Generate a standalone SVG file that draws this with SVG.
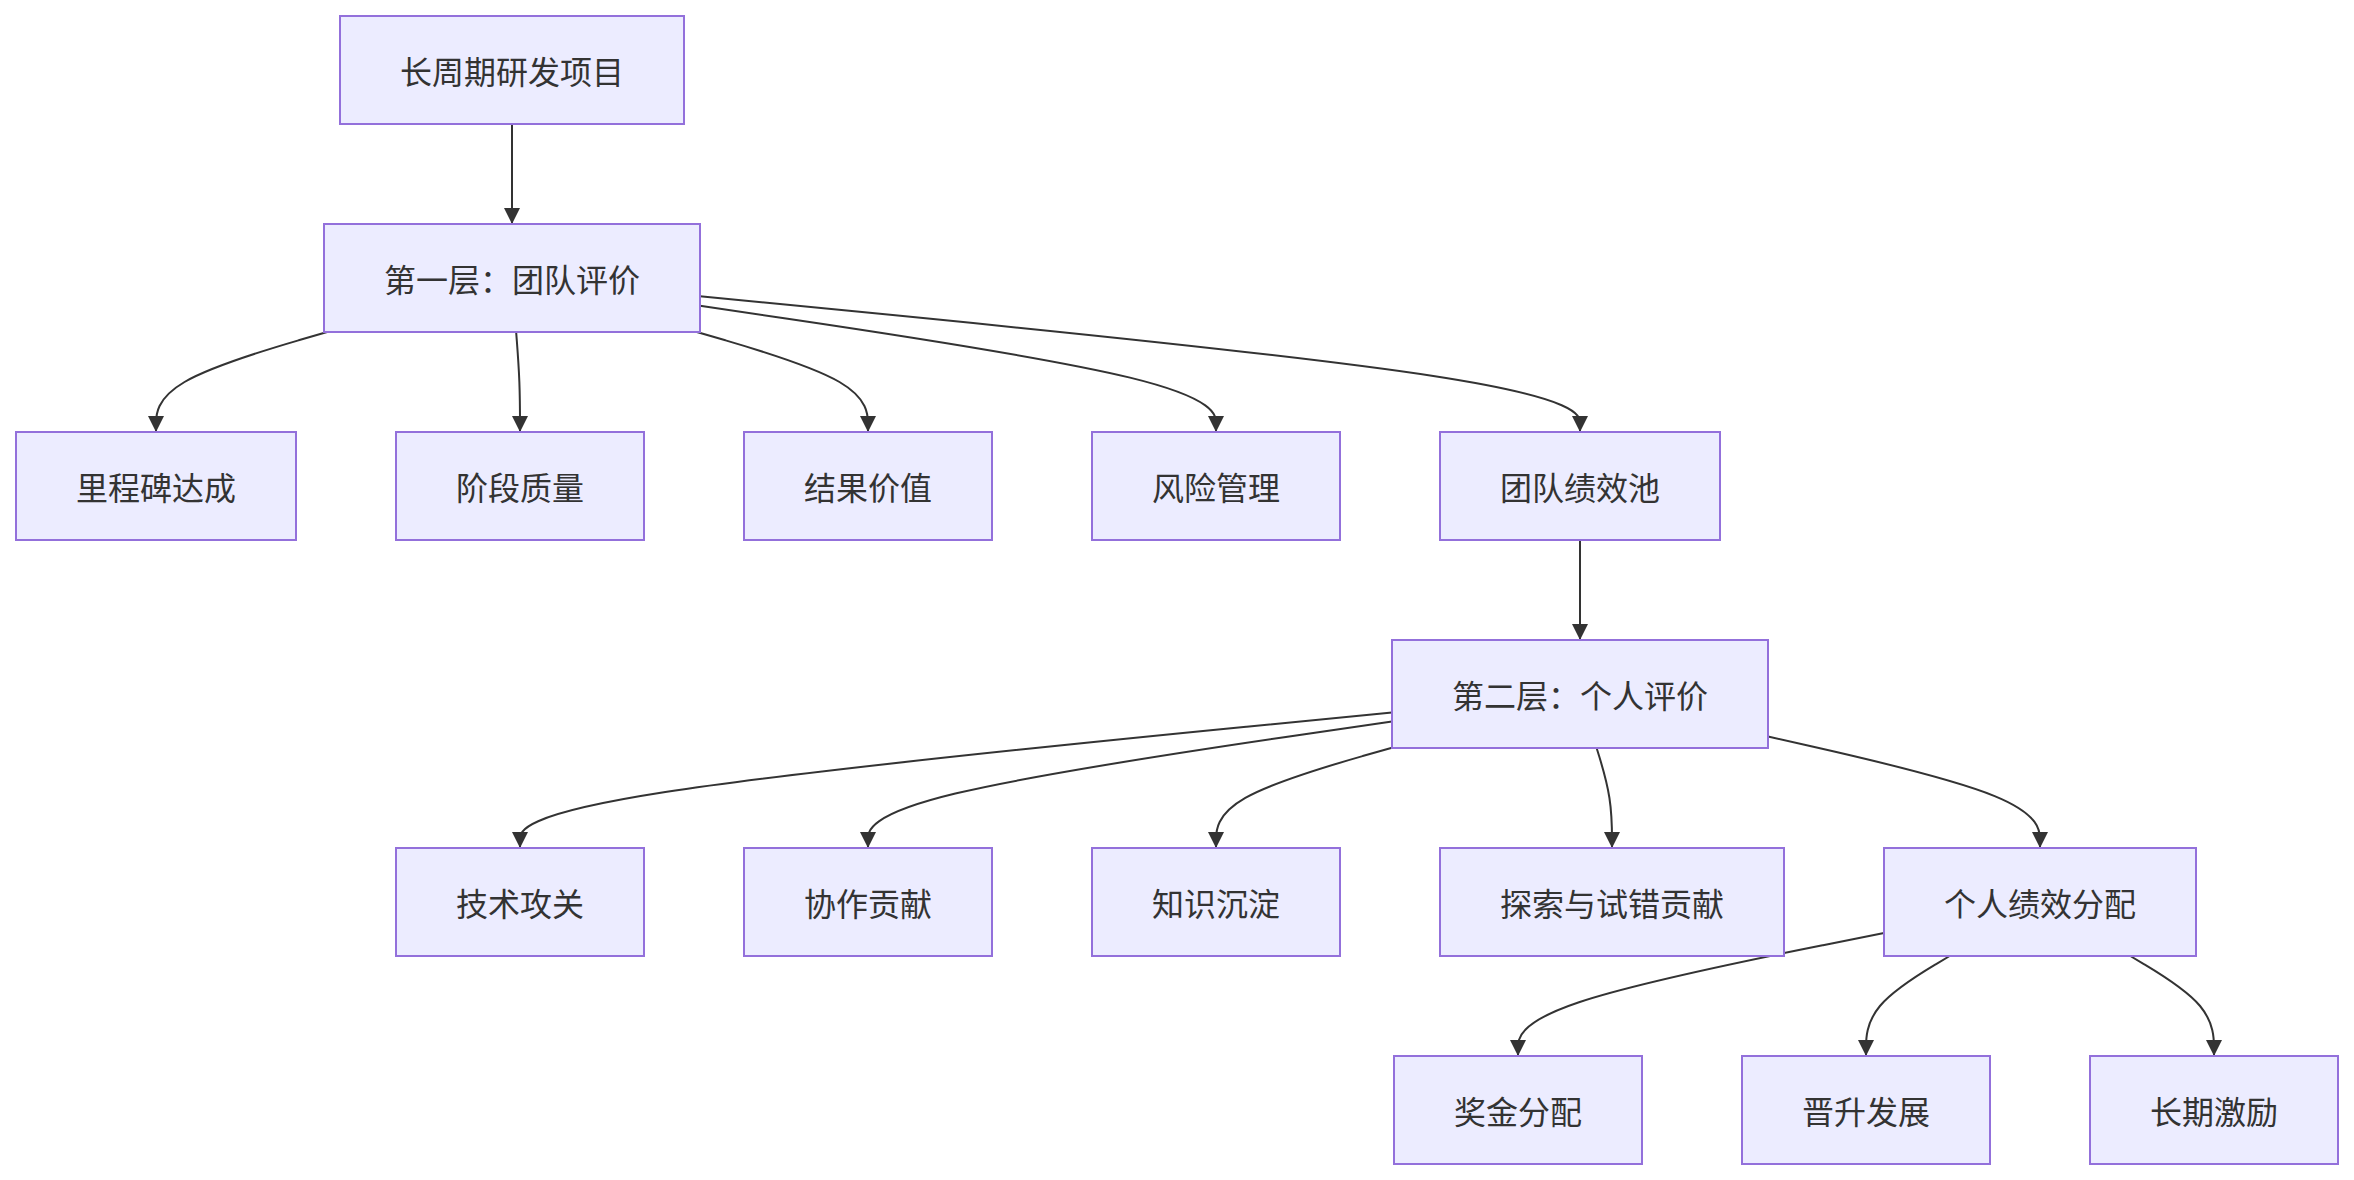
<svg xmlns="http://www.w3.org/2000/svg" width="2354" height="1180" viewBox="0 0 2354 1180">
<style>
.node rect{fill:#ECECFF;stroke:#9370DB;stroke-width:2;}
.node text{font-family:"Noto Sans CJK SC","Noto Sans",sans-serif;font-size:32px;fill:#333333;text-anchor:middle;dominant-baseline:central;}
.edge{fill:none;stroke:#333333;stroke-width:2;marker-end:url(#arrow);}
</style>
<defs>
<marker id="arrow" viewBox="0 0 10 10" refX="10" refY="5" markerUnits="userSpaceOnUse" markerWidth="16" markerHeight="16" orient="auto">
<path d="M0,0 L10,5 L0,10 z" fill="#333333"/>
</marker>
</defs>
<rect width="2354" height="1180" fill="#ffffff"/>
<g id="connectors">
<path class="edge" d="M512,124 L512,224"/>
<path class="edge" d="M327.15,332 L298.63,340.33 C270.1,348.67 213.05,365.33 184.53,382 C156,398.67 156,415.33 156,423.67 L156,432"/>
<path class="edge" d="M516.15,332 L516.79,340.33 C517.43,348.67 518.72,365.33 519.36,382 C520,398.67 520,415.33 520,423.67 L520,432"/>
<path class="edge" d="M696.85,332 L725.38,340.33 C753.9,348.67 810.95,365.33 839.48,382 C868,398.67 868,415.33 868,423.67 L868,432"/>
<path class="edge" d="M700,305.77 L786,318.48 C872,331.18 1044,356.59 1130,377.63 C1216,398.67 1216,415.33 1216,423.67 L1216,432"/>
<path class="edge" d="M700,296.31 L846.67,310.59 C993.33,324.87 1286.67,353.44 1433.33,376.05 C1580,398.67 1580,415.33 1580,423.67 L1580,432"/>
<path class="edge" d="M1580,540 L1580,640"/>
<path class="edge" d="M1392,712.45 L1246.67,726.71 C1101.33,740.97 810.67,769.48 665.33,792.08 C520,814.67 520,831.33 520,839.67 L520,848"/>
<path class="edge" d="M1392,721.46 L1304.67,734.22 C1217.33,746.97 1042.67,772.49 955.33,793.58 C868,814.67 868,831.33 868,839.67 L868,848"/>
<path class="edge" d="M1392,747.7 L1362.67,756.08 C1333.33,764.47 1274.67,781.23 1245.33,797.95 C1216,814.67 1216,831.33 1216,839.67 L1216,848"/>
<path class="edge" d="M1596.62,748 L1599.18,756.33 C1601.75,764.67 1606.87,781.33 1609.44,798 C1612,814.67 1612,831.33 1612,839.67 L1612,848"/>
<path class="edge" d="M1768,736.5 L1813.33,746.75 C1858.67,757 1949.33,777.5 1994.67,796.08 C2040,814.67 2040,831.33 2040,839.67 L2040,848"/>
<path class="edge" d="M1884,933.08 L1823,945.23 C1762,957.39 1640,981.69 1579,1002.18 C1518,1022.67 1518,1039.33 1518,1047.67 L1518,1056"/>
<path class="edge" d="M1949.65,956 L1935.71,964.33 C1921.77,972.67 1893.88,989.33 1879.94,1006 C1866,1022.67 1866,1039.33 1866,1047.67 L1866,1056"/>
<path class="edge" d="M2130.35,956 L2144.29,964.33 C2158.23,972.67 2186.12,989.33 2200.06,1006 C2214,1022.67 2214,1039.33 2214,1047.67 L2214,1056"/>
</g>
<g id="root" class="node"><rect x="340" y="16" width="344" height="108"/><text x="512" y="70">长周期研发项目</text></g>
<g id="layer1" class="node"><rect x="324" y="224" width="376" height="108"/><text x="512" y="278">第一层：团队评价</text></g>
<g id="milestone" class="node"><rect x="16" y="432" width="280" height="108"/><text x="156" y="486">里程碑达成</text></g>
<g id="stageQuality" class="node"><rect x="396" y="432" width="248" height="108"/><text x="520" y="486">阶段质量</text></g>
<g id="resultValue" class="node"><rect x="744" y="432" width="248" height="108"/><text x="868" y="486">结果价值</text></g>
<g id="riskMgmt" class="node"><rect x="1092" y="432" width="248" height="108"/><text x="1216" y="486">风险管理</text></g>
<g id="teamPool" class="node"><rect x="1440" y="432" width="280" height="108"/><text x="1580" y="486">团队绩效池</text></g>
<g id="layer2" class="node"><rect x="1392" y="640" width="376" height="108"/><text x="1580" y="694">第二层：个人评价</text></g>
<g id="techBreak" class="node"><rect x="396" y="848" width="248" height="108"/><text x="520" y="902">技术攻关</text></g>
<g id="collab" class="node"><rect x="744" y="848" width="248" height="108"/><text x="868" y="902">协作贡献</text></g>
<g id="knowledge" class="node"><rect x="1092" y="848" width="248" height="108"/><text x="1216" y="902">知识沉淀</text></g>
<g id="explore" class="node"><rect x="1440" y="848" width="344" height="108"/><text x="1612" y="902">探索与试错贡献</text></g>
<g id="personalAlloc" class="node"><rect x="1884" y="848" width="312" height="108"/><text x="2040" y="902">个人绩效分配</text></g>
<g id="bonus" class="node"><rect x="1394" y="1056" width="248" height="108"/><text x="1518" y="1110">奖金分配</text></g>
<g id="promotion" class="node"><rect x="1742" y="1056" width="248" height="108"/><text x="1866" y="1110">晋升发展</text></g>
<g id="longTerm" class="node"><rect x="2090" y="1056" width="248" height="108"/><text x="2214" y="1110">长期激励</text></g>
</svg>
